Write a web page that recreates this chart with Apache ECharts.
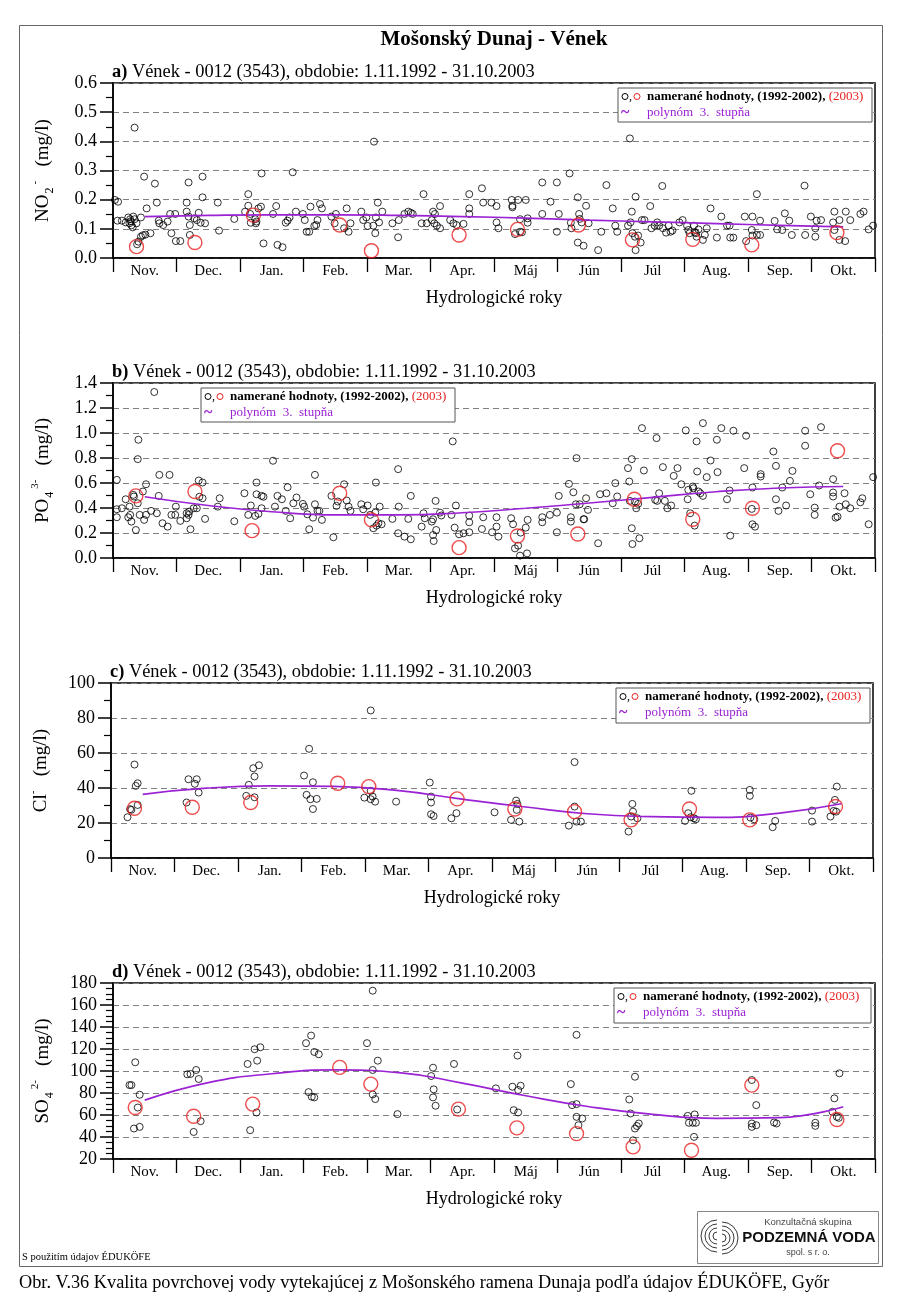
<!DOCTYPE html>
<html><head><meta charset="utf-8">
<script src="https://cdn.jsdelivr.net/npm/echarts@6/dist/echarts.min.js"></script>
<style>html,body{margin:0;padding:0;background:#fff}#c{width:900px;height:1306px}</style>
</head><body><div id="c"></div>
<script>
// ---------- DATA ----------
const months = ['Nov.','Dec.','Jan.','Feb.','Mar.','Apr.','Máj','Jún','Júl','Aug.','Sep.','Okt.'];
const polyMonths = [0.5,1.5,2.5,3.5,4.5,5.5,6.5,7.5,8.5,9.5,10.5,11.5];

// a) NO2-  [month position, mg/l]
const aBlack = [[0.03,.199],[0.08,.193],[0.34,.447],[0.07,.128],[0.14,.128],[0.20,.122],[0.24,.139],[0.27,.133],[0.28,.126],[0.26,.119],[0.29,.112],[0.32,.142],[0.34,.133],[0.37,.119],[0.31,.105],[0.40,.056],[0.38,.047],[0.44,.073],[0.47,.078],[0.51,.080],[0.59,.085],[0.44,.139],[0.49,.279],[0.53,.170],[0.66,.255],[0.69,.190],[0.72,.128],[0.73,.119],[0.79,.113],[0.86,.125],[0.90,.151],[0.98,.151],[0.92,.085],[0.99,.058],[1.06,.058],[1.19,.259],[1.16,.190],[1.16,.159],[1.19,.142],[1.21,.113],[1.21,.079],[1.28,.136],[1.32,.130],[1.35,.155],[1.38,.121],[1.45,.119],[1.41,.279],[1.41,.208],[1.65,.190],[1.67,.094],[1.91,.134],[2.08,.159],[2.13,.219],[2.13,.179],[2.16,.151],[2.17,.121],[2.24,.133],[2.26,.125],[2.25,.119],[2.29,.170],[2.33,.176],[2.34,.290],[2.37,.050],[2.52,.151],[2.57,.178],[2.59,.045],[2.67,.037],[2.72,.121],[2.75,.128],[2.78,.139],[2.83,.294],[2.88,.159],[2.99,.151],[3.02,.130],[3.05,.090],[3.09,.090],[3.11,.176],[3.17,.110],[3.20,.113],[3.22,.130],[3.26,.185],[3.29,.170],[3.44,.142],[3.49,.119],[3.51,.151],[3.64,.102],[3.68,.170],[3.71,.090],[3.74,.119],[3.91,.159],[3.94,.130],[3.99,.139],[4.01,.110],[4.10,.111],[4.11,.399],[4.13,.085],[4.14,.139],[4.17,.190],[4.19,.122],[4.24,.159],[4.40,.119],[4.49,.071],[4.50,.130],[4.59,.151],[4.65,.159],[4.69,.155],[4.72,.151],[4.89,.219],[4.86,.119],[4.94,.119],[5.02,.130],[5.04,.159],[5.07,.151],[5.06,.119],[5.10,.111],[5.15,.102],[5.15,.178],
[5.31,.130],[5.36,.119],[5.41,.113],[5.52,.117],[5.61,.219],[5.61,.170],[5.61,.151],[5.81,.239],[5.83,.190],[5.96,.190],[6.04,.178],[6.04,.122],[6.07,.102],[6.28,.199],[6.29,.179],[6.29,.174],[6.38,.199],[6.50,.199],[6.41,.133],[6.53,.121],[6.53,.136],[6.33,.082],[6.41,.090],[6.44,.088],[6.76,.259],[6.99,.259],[6.89,.193],[6.76,.151],[7.02,.151],[6.99,.090],[7.19,.290],[7.32,.208],[7.45,.179],[7.21,.121],[7.22,.102],[7.34,.151],[7.35,.134],[7.38,.122],[7.49,.119],[7.32,.053],[7.41,.042],[7.64,.027],[7.69,.090],[7.77,.250],[7.87,.170],[7.91,.111],[7.94,.090],[8.11,.111],[8.14,.410],[8.17,.159],[8.23,.210],[8.15,.122],[8.18,.085],[8.22,.073],[8.27,.077],[8.23,.027],[8.31,.053],[8.33,.130],[8.37,.130],[8.46,.178],[8.48,.102],[8.53,.111],[8.57,.122],[8.60,.111],[8.65,.247],[8.66,.102],[8.71,.087],[8.75,.111],[8.78,.090],[8.81,.094],[8.92,.122],[8.97,.130],[9.04,.111],[9.06,.096],[9.08,.085],[9.15,.111],[9.16,.088],[9.18,.085],[9.22,.098],[9.19,.073],[9.29,.062],[9.32,.079],[9.35,.102],[9.41,.170],[9.51,.070],[9.58,.142],[9.67,.111],[9.71,.111],[9.72,.070],[9.77,.070],[9.95,.142],[10.07,.142],[10.19,.128],[10.06,.096],[10.07,.077],[10.14,.079],[10.19,.079],[9.97,.058],[10.14,.219],[10.42,.127],[10.46,.098],[10.54,.096],[10.58,.153],[10.65,.128],[10.69,.079],[10.89,.248],[10.90,.079],[10.99,.142],[11.06,.102],[11.06,.073],[11.08,.128],[11.15,.130],[11.36,.159],[11.34,.122],[11.36,.096],[11.44,.062],[11.44,.130],[11.53,.058],[11.54,.159],[11.61,.130],[11.77,.151],[11.82,.159],[11.90,.098],[11.97,.111]];
const aRed = [[0.37,.039],[1.29,.053],[2.21,.147],[3.57,.113],[4.07,.025],[5.45,.079],[6.37,.098],[7.33,.113],[8.18,.062],[9.13,.064],[10.06,.045],[11.40,.087]];
const aPoly = [0.142,0.146,0.148,0.148,0.146,0.142,0.137,0.130,0.124,0.118,0.112,0.107];

// b) PO4 3-
const bBlack = [[0.06,.625],[0.06,.39],[0.06,.326],[0.14,.398],[0.20,.470],[0.24,.326],[0.26,.411],[0.27,.345],[0.29,.291],[0.32,.505],[0.33,.492],[0.36,.224],[0.40,.946],[0.39,.791],[0.42,.345],[0.39,.438],[0.47,.532],[0.49,.305],[0.52,.345],[0.52,.59],[0.60,.377],[0.65,1.328],[0.69,.358],[0.72,.497],[0.73,.665],[0.78,.278],[0.86,.251],[0.89,.665],[0.92,.345],[0.98,.345],[0.99,.411],[1.06,.297],[1.16,.318],[1.16,.358],[1.19,.345],[1.20,.371],[1.22,.230],[1.27,.398],[1.32,.398],[1.35,.62],[1.41,.604],[1.36,.49],[1.41,.478],[1.45,.313],[1.65,.411],[1.68,.478],[1.91,.294],[2.07,.518],[2.13,.345],[2.17,.42],[2.24,.337],[2.26,.604],[2.26,.51],[2.34,.497],[2.37,.49],[2.29,.353],[2.34,.398],[2.52,.778],[2.55,.411],[2.59,.497],[2.66,.47],[2.72,.377],[2.75,.566],[2.79,.318],[2.84,.438],[2.89,.484],[2.99,.433],[3.01,.411],[3.06,.35],[3.09,.23],[3.15,.323],[3.18,.665],[3.18,.43],[3.22,.377],[3.25,.377],[3.29,.305],[3.44,.497],[3.47,.166],[3.52,.417],[3.54,.452],[3.64,.59],[3.68,.46],[3.71,.411],[3.74,.377],[3.91,.43],[3.94,.39],[4.01,.42],[4.05,.345],[4.10,.238],[4.13,.363],[4.15,.259],[4.18,.278],[4.23,.27],[4.14,.604],[4.20,.411],[4.40,.313],[4.49,.711],[4.50,.411],[4.49,.198],[4.59,.171],[4.69,.15],[4.65,.313],[4.69,.497],[4.86,.251],[4.89,.358],[4.91,.318],[5.02,.291],[5.04,.31],[5.04,.184],[5.05,.136],[5.08,.457],[5.09,.224],[5.15,.363],[5.17,.34],
[5.33,.345],[5.35,.933],[5.40,.42],[5.38,.243],[5.45,.19],[5.52,.198],[5.61,.339],[5.61,.286],[5.61,.206],[5.81,.232],[5.83,.326],[5.97,.206],[6.04,.326],[6.04,.251],[6.07,.171],[6.27,.318],[6.30,.27],[6.33,.077],[6.38,.099],[6.41,.019],[6.52,.037],[6.42,.203],[6.50,.243],[6.53,.305],[6.76,.326],[6.76,.286],[6.88,.345],[6.99,.363],[6.99,.206],[7.02,.497],[7.18,.593],[7.25,.526],[7.21,.326],[7.21,.291],[7.30,.799],[7.29,.43],[7.35,.43],[7.41,.31],[7.42,.31],[7.45,.478],[7.48,.385],[7.64,.118],[7.67,.51],[7.77,.518],[7.87,.438],[7.91,.599],[7.94,.492],[8.11,.719],[8.17,.791],[8.13,.612],[8.14,.457],[8.17,.238],[8.18,.112],[8.22,.452],[8.24,.398],[8.27,.433],[8.29,.158],[8.33,1.039],[8.36,.7],[8.54,.465],[8.57,.457],[8.56,.959],[8.60,.518],[8.66,.727],[8.69,.457],[8.73,.398],[8.79,.42],[8.83,.657],[8.89,.719],[8.95,.59],[9.02,1.021],[9.05,.47],[9.06,.545],[9.09,.358],[9.13,.572],[9.14,.558],[9.16,.259],[9.19,.933],[9.20,.692],[9.22,.532],[9.25,.518],[9.29,1.079],[9.29,.497],[9.35,.647],[9.41,.78],[9.51,.946],[9.52,.687],[9.58,1.039],[9.67,.47],[9.71,.54],[9.72,.179],[9.77,1.018],[9.94,.719],[9.97,.978],[10.07,.564],[10.06,.393],[10.07,.27],[10.11,.251],[10.20,.671],[10.20,.652],[10.40,.852],[10.44,.737],[10.44,.47],[10.48,.377],[10.54,.564],[10.60,.42],[10.66,.617],[10.70,.697],[10.90,1.018],[10.90,.898],[10.98,.51],[11.05,.403],[11.05,.345],[11.12,.58],[11.15,1.047],[11.34,.631],[11.34,.524],[11.34,.492],[11.38,.323],[11.41,.331],[11.44,.411],[11.52,.518],[11.54,.43],[11.61,.398],[11.77,.446],[11.80,.478],[11.90,.27],[11.97,.647]];
const bRed = [[0.36,.497],[1.29,.532],[2.19,.219],[3.57,.518],[4.07,.305],[5.45,.083],[6.37,.176],[7.32,.192],[8.21,.47],[9.13,.31],[10.07,.398],[11.41,.858]];
const bPoly = [0.49,0.42,0.37,0.345,0.345,0.362,0.398,0.44,0.485,0.53,0.56,0.572];

// c) Cl-
const cBlack = [[0.26,23.3],[0.30,27.9],[0.32,27.5],[0.37,53.4],[0.39,41.2],[0.42,42.7],[0.42,30.3],[1.22,45.0],[1.19,31.7],[1.32,42.4],[1.35,45.0],[1.38,37.4],[2.17,41.8],[2.13,35.5],[2.24,51.3],[2.33,53.0],[2.26,46.6],[2.26,34.7],[3.04,47.1],[3.12,62.4],[3.08,36.1],[3.14,33.6],[3.18,43.3],[3.18,28.0],[3.24,33.8],[3.99,34.5],[4.09,84.3],[4.09,38.4],[4.09,33.6],[4.12,35.1],[4.16,32.2],[4.49,32.2],[5.02,43.1],[5.04,35.1],[5.04,31.7],[5.04,25.0],[5.08,24.0],[5.36,22.7],[5.44,25.6],[6.04,26.1],[6.30,21.8],[6.38,32.8],[6.40,30.9],[6.39,27.5],[6.43,20.8],[7.21,18.5],[7.30,29.4],[7.30,54.8],[7.33,20.8],[7.40,20.8],[8.15,15.1],[8.19,23.7],[8.21,30.9],[8.22,26.5],[8.29,22.7],[9.04,21.2],[9.09,25.6],[9.13,23.3],[9.14,38.4],[9.18,22.7],[9.21,22.1],[10.06,38.9],[10.06,35.5],[10.07,23.1],[10.13,22.1],[10.42,17.6],[10.46,21.2],[11.04,27.1],[11.04,20.8],[11.33,23.7],[11.38,26.9],[11.40,33.2],[11.43,40.8],[11.42,26.5]];
const cRed = [[0.37,28.4],[1.28,29.0],[2.20,31.7],[3.57,42.7],[4.06,40.8],[5.45,33.8],[6.36,28.0],[7.30,26.5],[8.19,21.8],[9.11,28.0],[10.06,21.8],[11.41,29.4]];
const cPoly = [36.4,39.9,41.2,40.9,38.6,33.8,29.3,25.3,23.6,23.2,25.5,31.0];

// d) SO4 2-
const dBlack = [[0.26,87.2],[0.29,87.2],[0.35,107.9],[0.42,78.4],[0.39,66.8],[0.33,47.7],[0.42,49.2],[1.17,97.0],[1.22,97.3],[1.31,100.9],[1.35,92.7],[1.27,44.6],[1.38,54.4],[2.12,106.4],[2.23,119.8],[2.27,109.4],[2.32,121.6],[2.16,46.2],[2.26,62.3],[3.04,125.3],[3.12,132.2],[3.17,117.3],[3.24,115.2],[3.08,80.8],[3.13,76.6],[3.17,76.0],[4.00,125.3],[4.09,173.0],[4.09,100.9],[4.17,109.4],[4.09,78.7],[4.13,74.5],[4.48,60.8],[5.04,103.0],[5.01,95.4],[5.05,83.3],[5.04,76.0],[5.08,68.4],[5.37,106.4],[5.42,65.0],[6.03,84.2],[6.29,85.7],[6.38,82.7],[6.42,86.6],[6.37,114.0],[6.31,64.4],[6.38,62.3],[7.21,88.1],[7.30,132.9],[7.23,69.0],[7.30,69.9],[7.30,58.3],[7.39,56.8],[7.33,50.7],[8.13,74.1],[8.22,94.8],[8.15,61.4],[8.22,47.7],[8.25,50.0],[8.28,52.3],[8.19,37.0],[9.05,59.2],[9.07,52.9],[9.13,52.9],[9.18,52.9],[9.16,60.5],[9.15,40.1],[10.06,91.8],[10.13,69.0],[10.06,52.3],[10.06,49.2],[10.13,50.7],[10.41,53.2],[10.45,52.3],[11.06,52.9],[11.06,50.1],[11.44,97.9],[11.36,75.1],[11.33,62.9],[11.40,58.3],[11.43,57.4]];
const dRed = [[0.35,66.8],[1.27,58.9],[2.20,69.9],[3.57,103.3],[4.06,88.1],[5.44,65.3],[6.36,48.3],[7.30,43.1],[8.19,31.0],[9.11,27.9],[10.06,87.2],[11.40,55.9]];
const dPoly = [73.5,89.5,97.5,101,98.5,89,77.5,67.5,60.5,57,57.7,67.5];

// ---------- LAYOUT ----------
const SERIF = '"Liberation Serif","Times New Roman",serif';
const SANS = '"Liberation Sans",Arial,sans-serif';
const PURPLE = '#9b22d4';
const RED = '#e82020';
const panelTitle = ' Vének - 0012 (3543), obdobie: 1.11.1992 - 31.10.2003';

const panels = [
  {tag:'a)', left:113, top:83, h:175, min:0, max:0.6, interval:0.1, minor:2, dec:1,
   black:aBlack, red:aRed, poly:aPoly, yname:'{m|NO}{s|2}{p|-}{m|   (mg/l)}', lg:{x:618,y:88,w:254,h:34}},
  {tag:'b)', left:113, top:383, h:175, min:0, max:1.4, interval:0.2, minor:2, dec:1,
   black:bBlack, red:bRed, poly:bPoly, yname:'{m|PO}{s|4}{p|3-}{m|   (mg/l)}', lg:{x:201,y:388,w:254,h:34}},
  {tag:'c)', left:111, top:683, h:175, min:0, max:100, interval:20, minor:2, dec:0,
   black:cBlack, red:cRed, poly:cPoly, yname:'{m|Cl}{p|-}{m|   (mg/l)}', lg:{x:616,y:688,w:254,h:35}},
  {tag:'d)', left:113, top:983, h:176, min:20, max:180, interval:20, minor:4, dec:0,
   black:dBlack, red:dRed, poly:dPoly, yname:'{m|SO}{s|4}{p|2-}{m|   (mg/l)}', lg:{x:614,y:988,w:257,h:35}}
];

const grids=[], xAxes=[], yAxes=[], series=[], graphics=[];
panels.forEach((p,i)=>{
  grids.push({left:p.left, top:p.top, width:762, height:p.h, show:true, borderColor:'#000', borderWidth:1.5, backgroundColor:'transparent'});
  xAxes.push({gridIndex:i, type:'value', min:0, max:12, show:false});
  xAxes.push({gridIndex:i, type:'category', data:months, boundaryGap:true, position:'bottom',
    axisLine:{show:true, lineStyle:{color:'#000', width:1.5}},
    axisTick:{show:true, inside:false, length:14, interval:0, lineStyle:{color:'#000', width:1.3}},
    axisLabel:{interval:0, margin:6, fontFamily:SERIF, fontSize:15, color:'#000'},
    splitLine:{show:false},
    name:'Hydrologické roky', nameLocation:'middle', nameGap:31,
    nameTextStyle:{fontFamily:SERIF, fontSize:18, color:'#000'}});
  yAxes.push({gridIndex:i, type:'value', min:p.min, max:p.max, interval:p.interval,
    axisLine:{show:true, lineStyle:{color:'#000', width:1.5}},
    axisTick:{show:true, inside:false, length:13, lineStyle:{color:'#000', width:1.5}},
    minorTick:{show:true, splitNumber:p.minor, length:7, lineStyle:{color:'#000', width:1.2}},
    axisLabel:{margin:16, fontFamily:SERIF, fontSize:18, color:'#000', showMinLabel:true, showMaxLabel:true,
      formatter:v=>p.dec? v.toFixed(p.dec) : String(Math.round(v))},
    splitLine:{show:true, lineStyle:{color:'#808080', type:[6,4], width:1}},
    name:p.yname, nameLocation:'middle', nameGap:57, nameRotate:90,
    nameTextStyle:{fontFamily:SERIF, fontSize:19, color:'#000', rich:{
      m:{fontFamily:SERIF, fontSize:19, color:'#000', lineHeight:26, verticalAlign:'middle'},
      s:{fontFamily:SERIF, fontSize:12, color:'#000', lineHeight:14, verticalAlign:'bottom', padding:[0,3,0,1]},
      p:{fontFamily:SERIF, fontSize:11, color:'#000', lineHeight:13, verticalAlign:'top', padding:[0,0,0,0]}
    }}});
  series.push({type:'scatter', xAxisIndex:2*i, yAxisIndex:i, data:p.black, symbol:'circle', symbolSize:7,
    itemStyle:{color:'rgba(0,0,0,0)', borderColor:'#000', borderWidth:1}, silent:true, z:3});
  series.push({type:'line', xAxisIndex:2*i, yAxisIndex:i, data:polyMonths.map((m,j)=>[m,p.poly[j]]),
    smooth:0.5, showSymbol:false, symbol:'none', lineStyle:{color:PURPLE, width:1.7}, silent:true, z:4});
  series.push({type:'scatter', xAxisIndex:2*i, yAxisIndex:i, data:p.red, symbol:'circle', symbolSize:14,
    itemStyle:{color:'rgba(0,0,0,0)', borderColor:RED, borderWidth:1.4}, silent:true, z:5});

  // panel title
  graphics.push({type:'text', x:p.left-1, y:p.top-11, z:20, style:{
    text:'{b|'+p.tag+'}'+panelTitle, fontFamily:SERIF, fontSize:18.4, fill:'#000',
    textVerticalAlign:'middle', verticalAlign:'middle',
    rich:{b:{fontFamily:SERIF, fontSize:18.4, fontWeight:'bold', fill:'#000', color:'#000'}}}});
  // legend
  const L=p.lg;
  graphics.push({type:'rect', z:20, shape:{x:L.x, y:L.y, width:L.w, height:L.h},
    style:{fill:'#fff', stroke:'#555', lineWidth:1}});
  graphics.push({type:'circle', z:21, shape:{cx:L.x+7, cy:L.y+8.5, r:3}, style:{fill:'none', stroke:'#000', lineWidth:1}});
  graphics.push({type:'text', z:21, x:L.x+11, y:L.y+8.5, style:{text:',', fontFamily:SERIF, fontSize:12, fill:'#000', textVerticalAlign:'middle', verticalAlign:'middle'}});
  graphics.push({type:'circle', z:21, shape:{cx:L.x+19, cy:L.y+8.5, r:3}, style:{fill:'none', stroke:RED, lineWidth:1}});
  graphics.push({type:'text', z:21, x:L.x+29, y:L.y+8.5, style:{
    text:'{k|namerané hodnoty, (1992-2002),} {r|(2003)}', fontFamily:SERIF, fontSize:13, fill:'#000',
    textVerticalAlign:'middle', verticalAlign:'middle',
    rich:{k:{fontFamily:SERIF, fontSize:13, fontWeight:'bold', fill:'#000', color:'#000'},
          r:{fontFamily:SERIF, fontSize:13, fill:RED, color:RED}}}});
  graphics.push({type:'text', z:21, x:L.x+3, y:L.y+25, style:{text:'~', fontFamily:SERIF, fontSize:16, fontWeight:'bold', fill:PURPLE, textVerticalAlign:'middle', verticalAlign:'middle'}});
  graphics.push({type:'text', z:21, x:L.x+29, y:L.y+25, style:{text:'polynóm  3.  stupňa', fontFamily:SERIF, fontSize:13, fill:PURPLE, textVerticalAlign:'middle', verticalAlign:'middle'}});
});

// frame, titles, footer, logo
graphics.push({type:'rect', z:1, shape:{x:19.5, y:25.5, width:863, height:1241}, style:{fill:'none', stroke:'#666', lineWidth:1}});
graphics.push({type:'text', z:20, x:494, y:40, style:{text:'Mošonský Dunaj - Vének', fontFamily:SERIF, fontSize:21, fontWeight:'bold', fill:'#000', textAlign:'center', align:'center', textVerticalAlign:'middle', verticalAlign:'middle'}});
graphics.push({type:'text', z:20, x:22, y:1257, style:{text:'S použitím údajov ÉDUKÖFE', fontFamily:SERIF, fontSize:10.5, fill:'#000', textVerticalAlign:'middle', verticalAlign:'middle'}});
graphics.push({type:'text', z:20, x:19, y:1283, style:{text:'Obr. V.36 Kvalita povrchovej vody vytekajúcej z Mošonského ramena Dunaja podľa údajov ÉDUKÖFE, Győr', fontFamily:SERIF, fontSize:18.3, fill:'#000', textVerticalAlign:'middle', verticalAlign:'middle'}});
// logo
graphics.push({type:'rect', z:20, shape:{x:697.5, y:1211.5, width:181, height:52}, style:{fill:'#fff', stroke:'#888', lineWidth:1}});
[4,8,12,16].forEach(r=>{
  graphics.push({type:'arc', z:21, shape:{cx:717, cy:1236, r:r, startAngle:Math.PI/2, endAngle:Math.PI*1.5}, style:{fill:'none', stroke:'#222', lineWidth:0.9}});
  graphics.push({type:'arc', z:21, shape:{cx:722, cy:1238, r:r, startAngle:-Math.PI/2, endAngle:Math.PI/2}, style:{fill:'none', stroke:'#222', lineWidth:0.9}});
});
graphics.push({type:'text', z:21, x:808, y:1222, style:{text:'Konzultačná skupina', fontFamily:SANS, fontSize:9.5, fill:'#444', textAlign:'center', align:'center', textVerticalAlign:'middle', verticalAlign:'middle'}});
graphics.push({type:'text', z:21, x:809, y:1238, style:{text:'PODZEMNÁ VODA', fontFamily:SANS, fontSize:15, fontWeight:'bold', fill:'#111', textAlign:'center', align:'center', textVerticalAlign:'middle', verticalAlign:'middle'}});
graphics.push({type:'text', z:21, x:808, y:1253, style:{text:'spol. s r. o.', fontFamily:SANS, fontSize:9, fill:'#444', textAlign:'center', align:'center', textVerticalAlign:'middle', verticalAlign:'middle'}});

const chart = echarts.init(document.getElementById('c'), null, {renderer:'canvas'});
chart.setOption({
  animation:false, backgroundColor:'#fff',
  grid:grids, xAxis:xAxes, yAxis:yAxes, series:series, graphic:{elements:graphics}
});
</script></body></html>
